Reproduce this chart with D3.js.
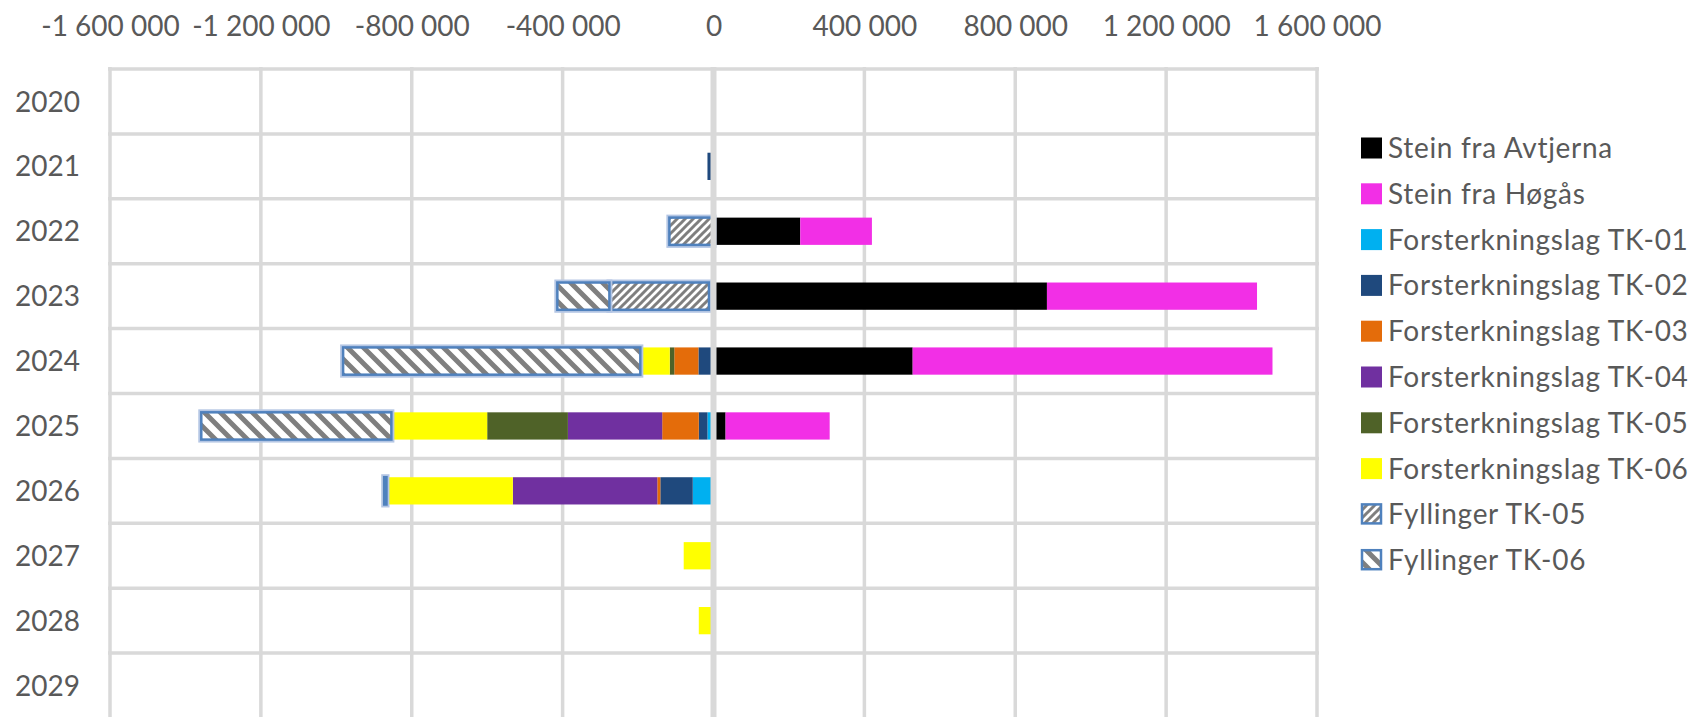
<!DOCTYPE html>
<html>
<head>
<meta charset="utf-8">
<script src="https://cdn.jsdelivr.net/npm/d3@7"></script>
<style>
  html, body { margin: 0; padding: 0; background: #fff; overflow: hidden; }
  svg { display: block; font-family: Lato, "Open Sans", sans-serif; }
</style>
</head>
<body>
<svg id="chart" width="1694" height="717"></svg>
<script>
// data
const years = ['2020','2021','2022','2023','2024','2025','2026','2027','2028','2029'];
const seriesNames = ['Stein fra Avtjerna','Stein fra Høgås','Forsterkningslag TK-01','Forsterkningslag TK-02',
  'Forsterkningslag TK-03','Forsterkningslag TK-04','Forsterkningslag TK-05','Forsterkningslag TK-06',
  'Fyllinger TK-05','Fyllinger TK-06'];
const avtjerna = [0, 0, 230000, 884000, 528000, 32000, 0, 0, 0, 0];
const hogas    = [0, 0, 190000, 557000, 954000, 276000, 0, 0, 0, 0];
const tk01     = [0, 0, 0, 0, 0, -16000, -55000, 0, 0, 0];
const tk02     = [0, -16000, 0, 0, -40000, -23000, -86000, 0, 0, 0];
const tk03     = [0, 0, 0, 0, -64000, -97000, -8000, 0, 0, 0];
const tk04     = [0, 0, 0, 0, 0, -250000, -383000, 0, 0, 0];
const tk05     = [0, 0, 0, 0, -12000, -214000, 0, 0, 0, 0];
const tk06     = [0, 0, 0, -12000, -78000, -254000, -335000, -79000, -39000, 0];
const fyll05   = [0, 0, -117000, -264000, 0, 0, 0, 0, 0, 0];
const fyll06   = [0, 0, 0, -138000, -788000, -504000, -6000, 0, 0, 0];
const xTicks = [-1600000, -1200000, -800000, -400000, 0, 400000, 800000, 1200000, 1600000];

const allSeries = [avtjerna, hogas, tk01, tk02, tk03, tk04, tk05, tk06, fyll05, fyll06];
const colors = ['#000000','#f22fe6','#00b0f0','#1f497d','#e46c0a','#7030a0','#4f6228','#ffff00','url(#hatchUp)','url(#hatchDown)'];

const table = years.map((y, i) => {
  const row = { year: y };
  seriesNames.forEach((s, j) => { row[s] = allSeries[j][i]; });
  return row;
});

const svg = d3.select('#chart');
const textColor = '#595959';
const gridColor = '#d9d9d9';

const defs = svg.append('defs');
const pUp = defs.append('pattern').attr('id','hatchUp').attr('patternUnits','userSpaceOnUse')
  .attr('width', 8).attr('height', 8);
pUp.append('rect').attr('width', 8).attr('height', 8).attr('fill', '#fff');
pUp.append('path').attr('d','M-2,2 L2,-2 M0,8 L8,0 M6,10 L10,6')
  .attr('stroke','#7f7f7f').attr('stroke-width', 3);
const pDown = defs.append('pattern').attr('id','hatchDown').attr('patternUnits','userSpaceOnUse')
  .attr('width', 16).attr('height', 16);
pDown.append('rect').attr('width', 16).attr('height', 16).attr('fill', '#fff');
pDown.append('path').attr('d','M0,0 L16,16 M-4,12 L4,20 M12,-4 L20,4')
  .attr('stroke','#7f7f7f').attr('stroke-width', 5);

const x = d3.scaleLinear().domain([-1600000, 1600000]).range([110, 1317]);
const y = d3.scaleBand().domain(years).range([69, 718]).padding(0);
const barH = y.bandwidth() * 0.42;
const barOff = (y.bandwidth() - barH) / 2;

// grid
const grid = svg.append('g');
grid.selectAll('line.v').data(xTicks).enter().append('line')
  .attr('x1', d => x(d)).attr('x2', d => x(d))
  .attr('y1', 67).attr('y2', 717)
  .attr('stroke', gridColor).attr('stroke-width', 3.5);
grid.selectAll('line.h').data(years).enter().append('line')
  .attr('x1', 108).attr('x2', 1319)
  .attr('y1', d => y(d)).attr('y2', d => y(d))
  .attr('stroke', gridColor).attr('stroke-width', 3.5);

// bars
const stack = d3.stack().keys(seriesNames).offset(d3.stackOffsetDiverging);
const layers = stack(table);

const barsG = svg.append('g');
layers.forEach((layer, j) => {
  const isFyll = j >= 8;
  const g = barsG.append('g');
  const rects = layer.filter(d => d[1] - d[0] !== 0);
  if (isFyll) {
    g.selectAll('rect.halo').data(rects).enter().append('rect')
      .attr('x', d => x(Math.min(d[0], d[1])))
      .attr('y', d => y(d.data.year) + barOff)
      .attr('width', d => Math.abs(x(d[1]) - x(d[0])))
      .attr('height', barH)
      .attr('fill', 'none').attr('stroke', '#b4c6e4').attr('stroke-width', 6);
  }
  g.selectAll('rect.bar').data(rects).enter().append('rect')
    .attr('x', d => x(Math.min(d[0], d[1])))
    .attr('y', d => y(d.data.year) + barOff)
    .attr('width', d => Math.abs(x(d[1]) - x(d[0])))
    .attr('height', barH)
    .attr('fill', colors[j])
    .attr('stroke', isFyll ? '#4f81bd' : 'none')
    .attr('stroke-width', isFyll ? 2.5 : 0);
});

// zero axis line on top
svg.append('line')
  .attr('x1', x(0)).attr('x2', x(0)).attr('y1', 67).attr('y2', 717)
  .attr('stroke', gridColor).attr('stroke-width', 6);

// axes
const loc = d3.formatLocale({ decimal: ',', thousands: ' ', grouping: [3], currency: ['', ''], minus: '-' });
const fmt = loc.format(',');

const xAxis = d3.axisTop(x).tickValues(xTicks).tickFormat(fmt).tickSize(0).tickPadding(8);
svg.append('g').attr('transform', 'translate(0,44)').call(xAxis)
  .call(g => g.select('.domain').remove())
  .selectAll('text')
  .attr('fill', textColor).style('font-size', '28px').style('font-family', 'Lato, sans-serif');

const yAxis = d3.axisLeft(y).tickSize(0).tickPadding(30);
svg.append('g').attr('transform', 'translate(110,0)').call(yAxis)
  .call(g => g.select('.domain').remove())
  .selectAll('text')
  .attr('dy', '0.36em')
  .attr('fill', textColor).style('font-size', '28px').style('font-family', 'Lato, sans-serif');

// legend
const legend = svg.append('g');
seriesNames.forEach((name, i) => {
  const cy = 148 + i * 45.8;
  const isFyll = i >= 8;
  legend.append('rect')
    .attr('x', isFyll ? 1362 : 1361).attr('y', cy - (isFyll ? 10 : 10.5))
    .attr('width', isFyll ? 19 : 21).attr('height', isFyll ? 19 : 21)
    .attr('fill', colors[i])
    .attr('stroke', isFyll ? '#4f81bd' : 'none').attr('stroke-width', isFyll ? 2.5 : 0);
  legend.append('text')
    .attr('x', 1388).attr('y', cy).attr('dy', '0.36em')
    .attr('fill', textColor).style('font-size', '28px').style('letter-spacing', '0.7px')
    .text(name);
});
</script>
</body>
</html>
